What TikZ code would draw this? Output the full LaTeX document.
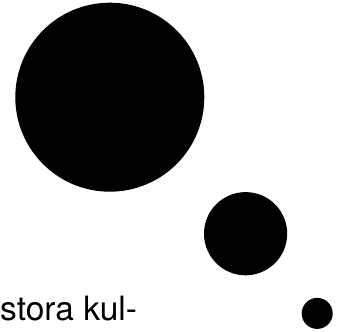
\documentclass[tikz,border=0pt]{standalone}
\usepackage{fontspec}
\setmainfont{TeX Gyre Heros}
\usepackage{tikz}

\begin{document}
\begin{tikzpicture}[x=1pt, y=-1pt, ball/.style={circle, fill=black, inner sep=0pt}]
  \useasboundingbox (0,0) rectangle (343,332);
  \node[ball, minimum size=189pt] (big) at (109.8,97.2) {};
  \node[ball, minimum size=83.2pt] (mid) at (245.6,233.7) {};
  \node[ball, minimum size=31pt] (small) at (317.2,313.4) {};
  \node[anchor=base west, inner sep=0pt, font=\fontsize{33.5}{40}\selectfont] (word) at (0,320.7) {stora kul-};
\end{tikzpicture}
\end{document}
